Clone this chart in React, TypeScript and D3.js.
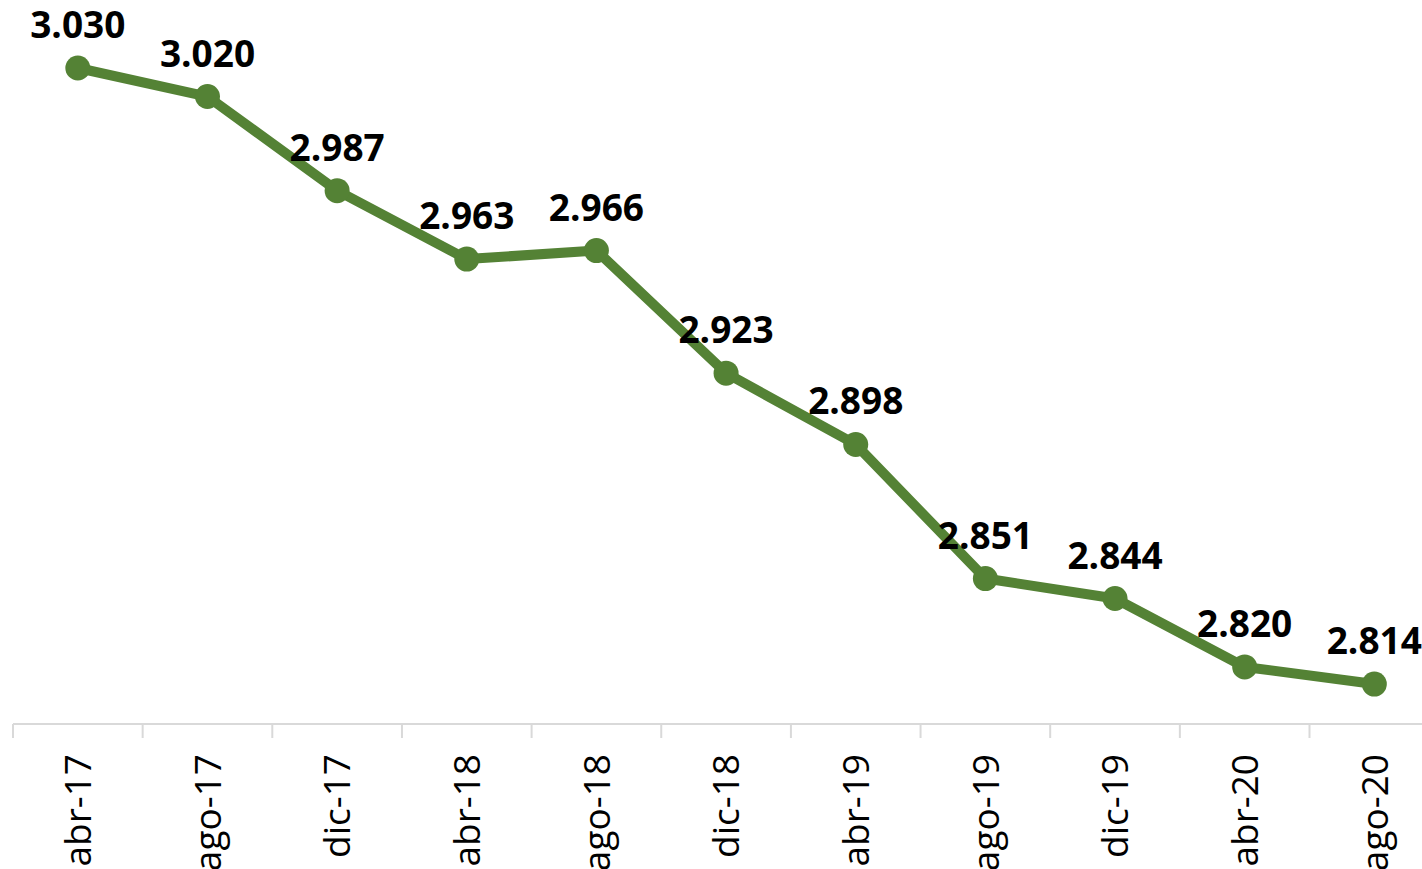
import { useMemo } from "react";
import * as d3 from "d3";

const WIDTH = 1422;
const HEIGHT = 869;

const categories = [
  "abr-17", "ago-17", "dic-17", "abr-18", "ago-18", "dic-18",
  "abr-19", "ago-19", "dic-19", "abr-20", "ago-20",
];
const values = [3030, 3020, 2987, 2963, 2966, 2923, 2898, 2851, 2844, 2820, 2814];
const yDomain = [2800, 3030];

const GREEN = "#548235";
const FONT = "'Open Sans', 'Noto Sans', sans-serif";

const fmt = (v: number) => d3.format(",")(v).replace(/,/g, ".");

export default function App() {
  const { x, y } = useMemo(() => {
    const x = d3.scaleBand<string>().domain(categories).range([13, 13 + 129.65 * categories.length]);
    const y = d3.scaleLinear().domain(yDomain).range([724, 68]);
    return { x, y };
  }, []);

  const cx = (c: string) => (x(c) ?? 0) + x.bandwidth() / 2;
  const pts = categories.map((c, i) => ({ c, v: values[i] }));

  const line = d3
    .line<{ c: string; v: number }>()
    .x((d) => cx(d.c))
    .y((d) => y(d.v));

  const axisY = y(yDomain[0]);
  const tickX = [...categories.map((c) => x(c) ?? 0), x.range()[1]];

  return (
    <svg
      width={WIDTH}
      height={HEIGHT}
      style={{ position: "absolute", left: 0, top: 0, display: "block", background: "#fff" }}
    >
      {/* eje x */}
      <line x1={x.range()[0]} x2={x.range()[1]} y1={axisY} y2={axisY} stroke="#d9d9d9" strokeWidth={2} />
      {tickX.map((t, i) => (
        <line key={i} x1={t} x2={t} y1={axisY} y2={axisY + 14} stroke="#d9d9d9" strokeWidth={2} />
      ))}
      {categories.map((c) => (
        <text
          key={c}
          transform={`translate(${cx(c)}, 754) rotate(-90)`}
          textAnchor="end"
          dy="0.36em"
          fontFamily={FONT}
          fontSize={37}
          fill="#000"
        >
          {c}
        </text>
      ))}

      {/* serie */}
      <path d={line(pts) ?? ""} fill="none" stroke={GREEN} strokeWidth={10} strokeLinejoin="round" />
      {pts.map((d) => (
        <circle key={d.c} cx={cx(d.c)} cy={y(d.v)} r={12.5} fill={GREEN} />
      ))}
      {pts.map((d) => (
        <text
          key={d.c}
          x={cx(d.c)}
          y={y(d.v) - 30}
          textAnchor="middle"
          fontFamily={FONT}
          fontWeight={700}
          fontSize={37}
          fill="#000"
        >
          {fmt(d.v)}
        </text>
      ))}
    </svg>
  );
}
